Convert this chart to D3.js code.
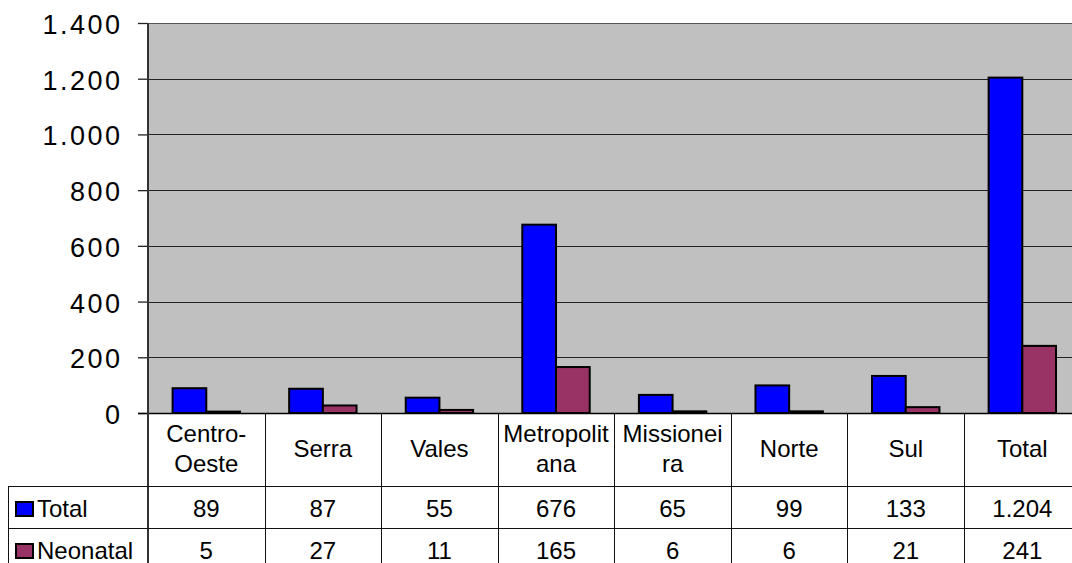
<!DOCTYPE html>
<html>
<head>
<meta charset="utf-8">
<script src="https://cdn.jsdelivr.net/npm/d3@7"></script>
<style>
  html, body { margin: 0; padding: 0; background: #fff; }
  svg { display: block; font-family: "Liberation Sans", Arial, sans-serif; }
</style>
</head>
<body>
<svg class="chart" width="1072" height="563"></svg>
<script>
// data
const categories = ['Centro-Oeste', 'Serra', 'Vales', 'Metropolitana', 'Missioneira', 'Norte', 'Sul', 'Total'];
const categoryLines = [['Centro-', 'Oeste'], ['Serra'], ['Vales'], ['Metropolit', 'ana'], ['Missionei', 'ra'], ['Norte'], ['Sul'], ['Total']];
const seriesNames = ['Total', 'Neonatal'];
const totalValues = [89, 87, 55, 676, 65, 99, 133, 1204];
const neonatalValues = [5, 27, 11, 165, 6, 6, 21, 241];
const yTicks = [0, 200, 400, 600, 800, 1000, 1200, 1400];
const seriesColors = ['#0000ff', '#993366'];

const seriesValues = [totalValues, neonatalValues];

const ptBR = d3.formatLocale({decimal: ',', thousands: '.', grouping: [3], currency: ['R$', '']});
const fmt = ptBR.format(',d');

const plotLeft = 148;
const plotRight = 1080.6;
const plotTop = 23;
const plotBottom = 413;
const headerBottom = 486;
const rowHeight = 42;
const tableLeft = 8;

const svg = d3.select('svg.chart');

const x = d3.scaleBand()
            .domain(categories)
            .range([plotLeft, plotRight])
            .padding(0);

const xInner = d3.scaleBand()
                 .domain(seriesNames)
                 .range([0, x.bandwidth()])
                 .paddingInner(0)
                 .paddingOuter(0.73);

const y = d3.scaleLinear()
            .domain([0, 1400])
            .range([plotBottom, plotTop]);

// plot background
svg.append('rect')
   .attr('x', plotLeft)
   .attr('y', plotTop)
   .attr('width', plotRight - plotLeft)
   .attr('height', plotBottom - plotTop)
   .style('fill', '#c0c0c0');

// gridlines
svg.append('g')
   .selectAll('line')
   .data(yTicks.filter(d => d > 0))
   .enter()
   .append('line')
   .attr('x1', plotLeft)
   .attr('x2', plotRight)
   .attr('y1', d => Math.round(y(d)) + 0.5)
   .attr('y2', d => Math.round(y(d)) + 0.5)
   .style('stroke', d => d === 1400 ? '#555' : '#222')
   .style('stroke-width', 1);

// bars
const groups = svg.append('g')
                  .selectAll('g.grp')
                  .data(categories)
                  .enter()
                  .append('g')
                  .attr('transform', d => `translate(${x(d)},0)`);

groups.selectAll('rect')
      .data((d, i) => seriesNames.map((s, j) => ({series: s, value: seriesValues[j][i], color: seriesColors[j]})))
      .enter()
      .append('rect')
      .attr('x', d => xInner(d.series))
      .attr('y', d => y(d.value))
      .attr('width', xInner.bandwidth())
      .attr('height', d => y(0) - y(d.value))
      .style('fill', d => d.color)
      .style('stroke', '#000')
      .style('stroke-width', 2);

// y axis
const yAxis = d3.axisLeft(y)
                .tickValues(yTicks)
                .tickSize(10)
                .tickFormat(fmt);

const yAxisG = svg.append('g')
                  .attr('transform', `translate(${plotLeft},0)`)
                  .call(yAxis);
yAxisG.select('.domain').remove();
yAxisG.selectAll('.tick line').style('stroke', '#222').style('stroke-width', 1.3);
yAxisG.selectAll('.tick text')
      .attr('x', -25.5)
      .attr('dy', null)
      .attr('y', 10.5)
      .style('font-size', '27px')
      .style('letter-spacing', '2.5px')
      .style('font-family', '"Liberation Sans", Arial, sans-serif')
      .style('fill', '#000');

// zero line
svg.append('line')
   .attr('x1', plotLeft - 10)
   .attr('x2', plotRight)
   .attr('y1', plotBottom + 0.5)
   .attr('y2', plotBottom + 0.5)
   .style('stroke', '#000')
   .style('stroke-width', 1.3);

// left axis line, running down through the table
svg.append('line')
   .attr('x1', plotLeft)
   .attr('x2', plotLeft)
   .attr('y1', plotTop)
   .attr('y2', 570)
   .style('stroke', '#333')
   .style('stroke-width', 2);

// data table
const table = svg.append('g');
const boundaries = categories.map(d => x(d)).concat([plotRight]);

table.selectAll('line.v')
     .data(boundaries.slice(1))
     .enter()
     .append('line')
     .attr('x1', d => Math.round(d) + 0.5)
     .attr('x2', d => Math.round(d) + 0.5)
     .attr('y1', plotBottom)
     .attr('y2', 570)
     .style('stroke', '#111')
     .style('stroke-width', 1);

table.selectAll('line.h')
     .data([headerBottom, headerBottom + rowHeight])
     .enter()
     .append('line')
     .attr('x1', tableLeft)
     .attr('x2', plotRight)
     .attr('y1', d => d + 0.5)
     .attr('y2', d => d + 0.5)
     .style('stroke', '#111')
     .style('stroke-width', 1);

table.append('line')
     .attr('x1', tableLeft + 0.5)
     .attr('x2', tableLeft + 0.5)
     .attr('y1', headerBottom)
     .attr('y2', 570)
     .style('stroke', '#111');

// category header labels
const headerCenter = (plotBottom + headerBottom) / 2;
table.selectAll('text.cat')
     .data(categories)
     .enter()
     .append('text')
     .attr('text-anchor', 'middle')
     .style('font-size', '24px')
     .style('fill', '#000')
     .each(function(d, i) {
       const lines = categoryLines[i];
       const t = d3.select(this);
       lines.forEach((ln, k) => {
         t.append('tspan')
          .attr('x', x(d) + x.bandwidth() / 2)
          .attr('y', headerCenter + 7.5 + (k - (lines.length - 1) / 2) * 29.4)
          .text(ln);
       });
     });

// value rows
seriesNames.forEach((s, j) => {
  const rowCenter = headerBottom + rowHeight * j + rowHeight / 2;

  table.append('rect')
       .attr('x', 16)
       .attr('y', rowCenter - 5)
       .attr('width', 17)
       .attr('height', 14)
       .style('fill', seriesColors[j])
       .style('stroke', '#000')
       .style('stroke-width', 2);

  table.append('text')
       .attr('x', 37)
       .attr('y', rowCenter + 10)
       .style('font-size', '24px')
       .style('fill', '#000')
       .text(s);

  table.selectAll('text.v' + j)
       .data(seriesValues[j])
       .enter()
       .append('text')
       .attr('x', (d, i) => x(categories[i]) + x.bandwidth() / 2)
       .attr('y', rowCenter + 10)
       .attr('text-anchor', 'middle')
       .style('font-size', '24px')
       .style('fill', '#000')
       .text(d => fmt(d));
});
</script>
</body>
</html>
